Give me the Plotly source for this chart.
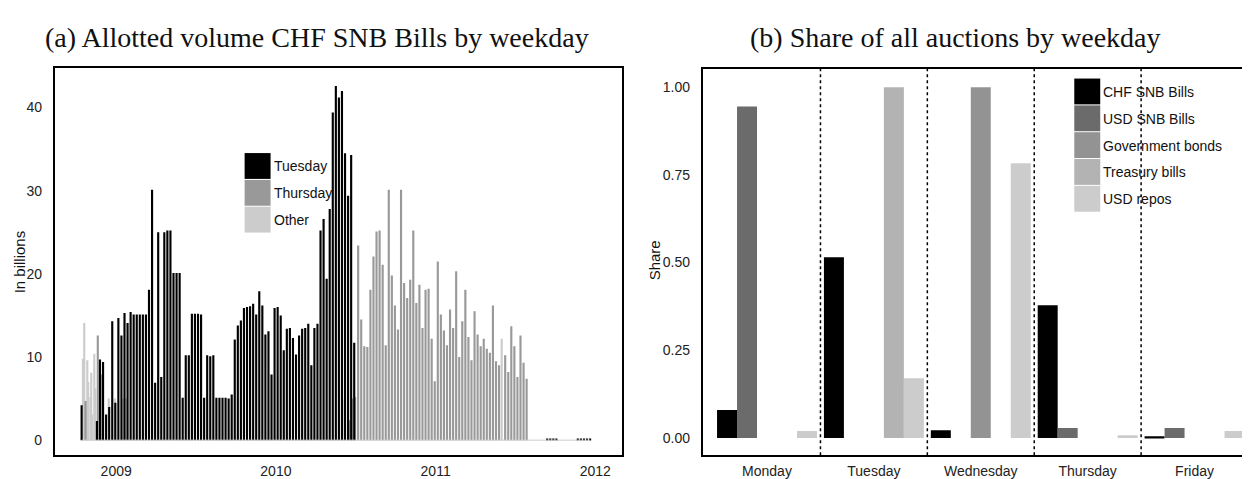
import pandas as pd
import plotly.graph_objects as go

# page body has an 8px default margin: build the figure 8px smaller and offset positions
PAGE_W, PAGE_H = 1250, 479
OFF = 8
W, H = PAGE_W - OFF, PAGE_H - OFF

# ---------------- Data: panel (a) allotted volume (CHF bn) ----------------
tuesday_extra_dates = ["2008-10-14"]
tuesday_extra_values = [4.2]
tuesday_weekly_start = "2008-11-18"
tuesday_weekly_values = [
    2.3, 9.7, 9.4, 3.1, 4.0, 14.3, 4.5, 14.7, 12.6, 15.3,
    14.1, 15.4, 15.1, 15.1, 15.1, 15.1, 15.1, 18.1, 30.1, 6.9,
    25.0, 7.6, 25.0, 25.2, 25.2, 20.1, 20.1, 20.1, 5.1, 10.2,
    10.2, 15.2, 15.2, 15.2, 15.1, 5.1, 10.2, 10.1, 10.2, 5.1,
    5.1, 5.1, 5.1, 5.0, 5.5, 12.1, 13.8, 14.4, 15.9, 16.0,
    16.1, 16.4, 15.1, 17.9, 16.2, 12.7, 13.1, 7.9, 15.9, 16.0,
    15.0, 10.8, 13.4, 13.5, 12.3, 10.3, 12.6, 13.4, 13.5, 14.0,
    9.0, 13.5, 14.0, 25.2, 26.6, 19.4, 27.8, 39.4, 42.6, 41.2,
    42.0, 34.5, 29.4, 34.3, 11.7,
]
tuesday_late_dates = ["2011-09-13", "2011-09-20", "2011-09-27", "2011-10-04",
                      "2011-11-22", "2011-11-29", "2011-12-06", "2011-12-13", "2011-12-20"]
tuesday_late_values = [0.15, 0.15, 0.15, 0.15, 0.15, 0.15, 0.15, 0.15, 0.15]

thursday_extra_dates = ["2008-10-23", "2008-11-20", "2008-11-27",
                        "2010-06-17", "2010-06-24", "2010-07-01"]
thursday_extra_values = [4.7, 12.6, 7.9, 2.4, 5.0, 5.2]
thursday_weekly_start = "2010-07-08"
thursday_skip_week = 47  # holiday week, auction held on another day
thursday_weekly_values = [
    23.4, 14.5, 11.3, 11.2, 18.1, 22.1, 25.1, 25.2, 21.1, 11.4,
    30.1, 19.8, 16.2, 13.3, 30.1, 18.9, 17.1, 19.3, 25.2, 16.5,
    18.7, 13.5, 18.1, 18.2, 12.2, 7.1, 21.5, 15.1, 13.2, 11.4,
    15.7, 13.5, 20.3, 10.0, 14.3, 18.1, 12.4, 9.6, 15.5, 12.7,
    11.3, 12.2, 11.0, 10.5, 16.2, 9.5, 9.0,
    10.2, 8.2, 13.7, 11.3, 7.6, 12.6, 9.3, 7.4,
]

other_dates = ["2008-10-17", "2008-10-20", "2008-10-27", "2008-10-29", "2008-11-03",
               "2008-11-05", "2008-11-07", "2008-11-12", "2008-11-14", "2008-12-15",
               "2008-12-29", "2009-01-16", "2009-01-23", "2010-06-02", "2011-06-01"]
other_values = [9.8, 14.1, 9.6, 7.0, 5.2, 8.1, 3.1, 10.4, 6.2, 5.0,
                5.0, 5.0, 5.0, 4.9, 12.2]

# ---------------- Data: panel (b) share by weekday ----------------
weekdays = ["Monday", "Tuesday", "Wednesday", "Thursday", "Friday"]
instruments = ["CHF SNB Bills", "USD SNB Bills", "Government bonds", "Treasury bills", "USD repos"]
share_chf_snb = [0.080, 0.515, 0.022, 0.378, 0.005]
share_usd_snb = [0.945, 0.0, 0.0, 0.028, 0.028]
share_gov_bonds = [0.0, 0.0, 1.0, 0.0, 0.0]
share_treasury = [0.0, 1.0, 0.0, 0.0, 0.0]
share_usd_repos = [0.020, 0.170, 0.783, 0.008, 0.020]

# ---------------- Build series ----------------
tue_weekly_dates = pd.date_range(tuesday_weekly_start, periods=len(tuesday_weekly_values), freq="7D")
tue_dates = pd.to_datetime(tuesday_extra_dates).append(tue_weekly_dates).append(pd.to_datetime(tuesday_late_dates))
tue_vals = tuesday_extra_values + tuesday_weekly_values + tuesday_late_values

thu_all = pd.date_range(thursday_weekly_start, periods=len(thursday_weekly_values) + 1, freq="7D")
thu_weekly_dates = thu_all.delete(thursday_skip_week)
thu_dates = pd.to_datetime(thursday_extra_dates).append(thu_weekly_dates)
thu_vals = thursday_extra_values + thursday_weekly_values

oth_dates = pd.to_datetime(other_dates)

DAY_MS = 24 * 3600 * 1000
bw = 4.9 * DAY_MS

col_tue, col_thu, col_oth = "#000000", "#999999", "#cccccc"
fig = go.Figure()

all_dates = tue_dates.append(thu_dates).append(oth_dates)
fig.add_trace(go.Scatter(x=[all_dates.min(), all_dates.max()], y=[0, 0], mode="lines",
                         line=dict(color=col_oth, width=1), xaxis="x", yaxis="y",
                         showlegend=False, hoverinfo="skip"))

for name, d, v, c in [("Other", oth_dates, other_values, col_oth),
                      ("Thursday", thu_dates, thu_vals, col_thu),
                      ("Tuesday", tue_dates, tue_vals, col_tue)]:
    fig.add_trace(go.Bar(x=d, y=v, name=name, marker=dict(color=c, line=dict(width=0)),
                         width=[bw] * len(v), offset=[-bw / 2] * len(v),
                         xaxis="x", yaxis="y", showlegend=False))

bar_cols = ["#000000", "#6b6b6b", "#939393", "#b3b3b3", "#cccccc"]
for name, vals, c in zip(instruments,
                         [share_chf_snb, share_usd_snb, share_gov_bonds, share_treasury, share_usd_repos],
                         bar_cols):
    fig.add_trace(go.Bar(x=weekdays, y=vals, name=name, marker=dict(color=c, line=dict(width=0)),
                         xaxis="x2", yaxis="y2", showlegend=False))

def px(x):
    """page pixel x -> paper fraction"""
    return (x - OFF) / W

def py(y):
    """page pixel y -> paper fraction"""
    return 1 - (y - OFF) / H

tick_font = dict(family="Liberation Sans, Arial, sans-serif", size=14, color="#222222")

fig.update_layout(
    width=W, height=H, margin=dict(l=0, r=0, t=0, b=0),
    paper_bgcolor="white", plot_bgcolor="white",
    barmode="group", bargap=0.065, bargroupgap=0,
    showlegend=False,
    xaxis=dict(domain=[px(55), px(623)], type="date",
               range=["2008-08-14", "2012-03-02"],
               tickvals=["2009-01-01", "2010-01-01", "2011-01-01", "2012-01-01"],
               tickformat="%Y", ticks="", ticklen=0, showgrid=False, zeroline=False,
               showline=True, linecolor="black", linewidth=2, mirror=True,
               tickfont=tick_font, ticklabelstandoff=2, anchor="y"),
    yaxis=dict(domain=[py(458), py(68)], range=[-1.8, 44.8],
               tickvals=[0, 10, 20, 30, 40], ticks="", ticklen=0, showgrid=False, zeroline=False,
               showline=True, linecolor="black", linewidth=2, mirror=True,
               tickfont=tick_font, ticklabelstandoff=8, anchor="x"),
    xaxis2=dict(domain=[px(704), 1.0], range=[-0.6, 4.5],
                ticks="", ticklen=0, showgrid=False, zeroline=False,
                showline=True, linecolor="black", linewidth=2, mirror=True,
                tickfont=tick_font, ticklabelstandoff=2, anchor="y2"),
    yaxis2=dict(domain=[py(458), py(69)], range=[-0.049, 1.053],
                tickvals=[0, 0.25, 0.5, 0.75, 1.0], tickformat=".2f",
                ticks="", ticklen=0, showgrid=False, zeroline=False,
                showline=True, linecolor="black", linewidth=2, mirror=True,
                tickfont=tick_font, ticklabelstandoff=8, anchor="x2"),
)

shapes = []
# dotted separators between weekday groups
for i in range(len(weekdays) - 1):
    shapes.append(dict(type="line", xref="x2", yref="y2 domain", x0=i + 0.5, x1=i + 0.5,
                       y0=0, y1=1, line=dict(color="black", width=1.5, dash="dot")))

annotations = []
label_font = dict(family="Liberation Sans, Arial, sans-serif", size=14, color="#111111")

def legend(items, colors, x_left, y_top, row_h=27, key_w=26):
    for k, (lab, c) in enumerate(zip(items, colors)):
        t = y_top + k * row_h
        shapes.append(dict(type="rect", xref="paper", yref="paper",
                           x0=px(x_left), x1=px(x_left + key_w),
                           y0=py(t + row_h - 1), y1=py(t),
                           fillcolor=c, line=dict(width=0)))
        annotations.append(dict(xref="paper", yref="paper", x=px(x_left + key_w + 1),
                                y=py(t + row_h / 2), text=lab, showarrow=False,
                                xanchor="left", yanchor="middle", font=label_font))

legend(["Tuesday", "Thursday", "Other"], [col_tue, col_thu, col_oth], 245, 154)
legend(instruments, bar_cols, 1076, 79)

title_font = dict(family="Liberation Serif, Times New Roman, serif", size=28, color="#111111")
annotations.append(dict(xref="paper", yref="paper", x=px(317), y=py(38),
                        text="(a) Allotted volume CHF SNB Bills by weekday",
                        showarrow=False, xanchor="center", yanchor="middle", font=title_font))
annotations.append(dict(xref="paper", yref="paper", x=px(957), y=py(38),
                        text="(b) Share of all auctions by weekday",
                        showarrow=False, xanchor="center", yanchor="middle", font=title_font))
annotations.append(dict(xref="paper", yref="paper", x=px(19), y=py(263), text="In billions",
                        textangle=-90, showarrow=False, xanchor="center", yanchor="middle",
                        font=dict(family="Liberation Sans, Arial, sans-serif", size=15, color="#111111")))
annotations.append(dict(xref="paper", yref="paper", x=px(655), y=py(262), text="Share",
                        textangle=-90, showarrow=False, xanchor="center", yanchor="middle",
                        font=dict(family="Liberation Sans, Arial, sans-serif", size=15, color="#111111")))

fig.update_layout(shapes=shapes, annotations=annotations)
fig.write_html("out.html")
